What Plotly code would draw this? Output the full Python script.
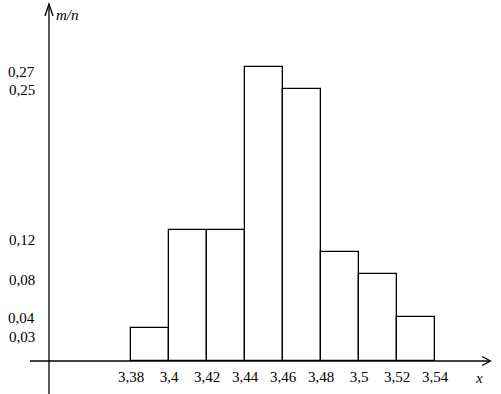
import plotly.graph_objects as go

# Data
edges = [3.38, 3.40, 3.42, 3.44, 3.46, 3.48, 3.50, 3.52, 3.54]
heights = [0.03, 0.12, 0.12, 0.27, 0.25, 0.10, 0.08, 0.04]
x_ticks = [3.38, 3.40, 3.42, 3.44, 3.46, 3.48, 3.50, 3.52, 3.54]
x_ticktext = ["3,38", "3,4", "3,42", "3,44", "3,46", "3,48", "3,5", "3,52", "3,54"]
y_ticks = [0.03, 0.04, 0.08, 0.12, 0.25, 0.27]
y_ticktext = ["0,03", "0,04", "0,08", "0,12", "0,25", "0,27"]

# label placement styling (pixel shifts of the hand-set y labels)
y_label_shift = [-9, -1, -6, -10, -1, -5]

centers = [(a + b) / 2 for a, b in zip(edges[:-1], edges[1:])]
widths = [b - a for a, b in zip(edges[:-1], edges[1:])]

W, H = 501, 394
ml, mr, mt, mb = 49, 11, 10, 33
pw, ph = W - ml - mr, H - mt - mb

def px(xp):
    return (xp - ml) / pw

def py(yp):
    return (H - mb - yp) / ph

FONT = "Liberation Serif, Times New Roman, serif"

fig = go.Figure()
fig.add_trace(go.Bar(
    x=centers, y=heights, width=widths,
    marker=dict(color="white", line=dict(color="black", width=1.3)),
    hoverinfo="skip",
))

line = dict(color="black", width=1.3)
shapes = [
    dict(type="line", xref="paper", yref="paper", x0=px(49), x1=px(49), y0=py(394), y1=py(4), line=line),
    dict(type="path", xref="paper", yref="paper",
         path=f"M {px(45)},{py(16)} L {px(49)},{py(4)} L {px(53)},{py(16)}", line=line),
    dict(type="line", xref="paper", yref="paper", x0=px(30), x1=px(490), y0=py(361), y1=py(361), line=line),
    dict(type="path", xref="paper", yref="paper",
         path=f"M {px(482)},{py(356.5)} L {px(490.5)},{py(361)} L {px(482)},{py(365.5)}", line=line),
]

annotations = [
    dict(text="<i>m/n</i>", xref="paper", yref="paper", x=px(54), y=py(15),
         xanchor="left", yanchor="middle", showarrow=False, font=dict(size=15)),
    dict(text="<i>x</i>", xref="paper", yref="paper", x=px(479), y=py(378),
         xanchor="center", yanchor="middle", showarrow=False, font=dict(size=15)),
]
for v, t, s in zip(y_ticks, y_ticktext, y_label_shift):
    annotations.append(dict(
        text=t, xref="paper", yref="y", x=px(37), y=v, yshift=s,
        xanchor="right", yanchor="middle", showarrow=False, font=dict(size=15),
    ))

fig.update_layout(
    width=W, height=H,
    margin=dict(l=ml, r=mr, t=mt, b=mb, pad=0),
    plot_bgcolor="white", paper_bgcolor="white",
    showlegend=False,
    font=dict(family=FONT, size=15, color="black"),
    shapes=shapes,
    bargap=0,
    xaxis=dict(
        range=[3.38 - 82 / 1900, 3.38 + 359 / 1900],
        tickvals=x_ticks, ticktext=x_ticktext,
        showgrid=False, zeroline=False, showline=False, ticks="",
        ticklabelstandoff=5, automargin=False,
    ),
    yaxis=dict(
        range=[0, ph / 1090],
        showticklabels=False,
        showgrid=False, zeroline=False, showline=False, ticks="",
        automargin=False,
    ),
    annotations=annotations,
)

fig.write_html(
    "out.html",
    config={"displayModeBar": False},
    post_script="document.body.style.margin='0';document.body.style.overflow='hidden';",
)
